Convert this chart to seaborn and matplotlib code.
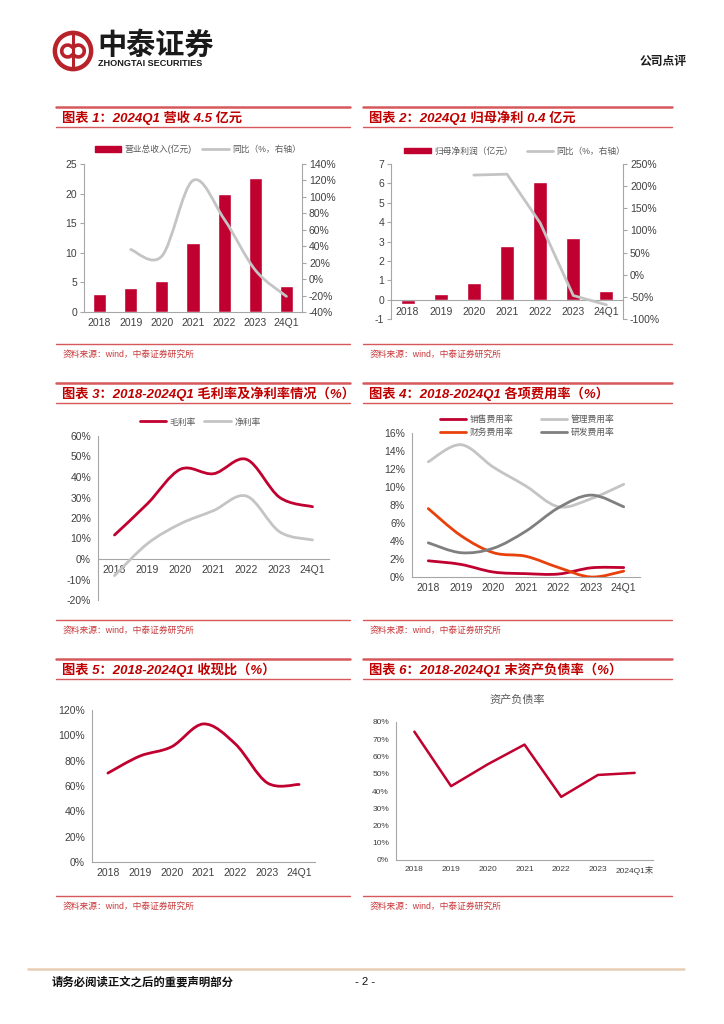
import numpy as np
import pandas as pd
import matplotlib
matplotlib.use("Agg")
import matplotlib.pyplot as plt
import seaborn as sns
from matplotlib.lines import Line2D
from matplotlib.patches import Patch, PathPatch, Circle, Arc
from matplotlib.path import Path

sns.set_style("white")
plt.rcParams['font.family'] = ['Liberation Sans', 'Noto Sans CJK SC']
plt.rcParams['axes.unicode_minus'] = False

# ---- data ----
years = ['2018', '2019', '2020', '2021', '2022', '2023', '24Q1']
years6 = ['2018', '2019', '2020', '2021', '2022', '2023', '2024Q1末']

revenue = [3.0, 4.1, 5.2, 11.7, 19.9, 22.6, 4.4]
revenue_yoy = [36, 28, 120, 73, 11, -21]          # from 2019
profit = [-0.22, 0.27, 0.86, 2.78, 6.05, 3.17, 0.43]
profit_yoy = [225, 227, 117, -47, -68]           # from 2020

gross_margin = [11.7, 27.0, 43.8, 41.6, 48.6, 30.1, 25.5]
net_margin = [-8.1, 7.5, 17.2, 23.6, 30.7, 13.3, 9.3]

sales_rate = [1.8, 1.4, 0.55, 0.37, 0.33, 1.02, 1.05]
admin_rate = [12.8, 14.7, 12.2, 10.1, 7.8, 8.7, 10.3]
finance_rate = [7.6, 4.6, 2.7, 2.3, 1.05, 0.0, 0.65]
rd_rate = [3.8, 2.7, 3.2, 5.1, 7.7, 9.1, 7.8]

cash_ratio = [70.2, 83.6, 91.0, 109.0, 93.2, 62.5, 61.2]
debt_ratio = [74.4, 42.8, 55.5, 66.9, 36.6, 49.3, 50.5]

W, H = 724, 1024
RED = '#C0002F'
TRED = '#C00000'
LRED = '#D7585A'
LGRAY = '#C4C4C4'
DGRAY = '#7F7F7F'
ORANGE = '#E8410B'
TICKC = '#404040'
SPINEC = '#A6A6A6'

fig = plt.figure(figsize=(W / 100, H / 100), dpi=100)


def rect(x0, y0, x1, y1):
    return [x0 / W, 1 - y1 / H, (x1 - x0) / W, (y1 - y0) / H]


def ftext(x, y, s, **kw):
    fig.text(x / W, 1 - y / H, s, va='center', **kw)


def hline(x0, x1, y, color, lw):
    fig.add_artist(Line2D([x0 / W, x1 / W], [1 - y / H, 1 - y / H],
                          transform=fig.transFigure, color=color, lw=lw))


def smooth_line(ax, xs, ys, color, lw=2.0):
    pts = np.column_stack([xs, ys]).astype(float)
    n = len(pts)
    verts = [pts[0]]
    codes = [Path.MOVETO]
    for i in range(n - 1):
        p0, p1 = pts[max(i - 1, 0)], pts[i]
        p2, p3 = pts[i + 1], pts[min(i + 2, n - 1)]
        verts += [p1 + (p2 - p0) / 6, p2 - (p3 - p1) / 6, p2]
        codes += [Path.CURVE4] * 3
    ax.add_patch(PathPatch(Path(verts, codes), fill=False, edgecolor=color,
                           lw=lw, capstyle='round', joinstyle='round', zorder=3))


def style_ax(ax, n=7, fs=7.5, zero_spine=False):
    for s in ['top', 'right']:
        ax.spines[s].set_visible(False)
    for s in ['left', 'bottom']:
        ax.spines[s].set_color(SPINEC)
        ax.spines[s].set_linewidth(0.8)
    if zero_spine:
        ax.spines['bottom'].set_position(('data', 0))
    ax.set_xlim(-0.5, n - 0.5)
    ax.set_xticks(range(n))
    ax.set_xticks(np.arange(-0.5, n), minor=True)
    ax.tick_params(axis='x', which='major', length=0, labelsize=fs, colors=TICKC, pad=4)
    ax.tick_params(axis='x', which='minor', length=3, color=SPINEC, width=0.8)
    ax.tick_params(axis='y', length=3, color=SPINEC, width=0.8, labelsize=fs,
                   labelcolor=TICKC, pad=2)
    ax.set_xlabel('')
    ax.set_ylabel('')
    ax.grid(False)


def pct_labels(ax, ticks):
    ax.set_yticks(ticks)
    ax.set_yticklabels([f'{t:.0f}%' for t in ticks])


def panel_frame(col, row, title):
    x0, x1 = (56, 350) if col == 0 else (363, 672)
    ty = [107, 383, 659][row]
    sy = [344, 620, 896][row]
    hline(x0, x1, ty, LRED, 1.8)
    hline(x0, x1, ty + 20, LRED, 1.0)
    ftext(x0 + 6, ty + 11, title, color=TRED, fontsize=9.5, fontweight='bold',
          style='italic')
    hline(x0, x1, sy, LRED, 1.0)
    ftext(x0 + 7, sy + 10, '资料来源：wind，中泰证券研究所', color='#C8383A', fontsize=6.3)


# ---- page header ----
logo = fig.add_axes(rect(52, 30, 94, 72))
logo.set_xlim(-1.1, 1.1)
logo.set_ylim(-1.1, 1.1)
logo.set_aspect('equal')
logo.axis('off')
logo.add_patch(Circle((0, 0), 0.95, fill=False, ec='#B8232B', lw=3.2))
logo.add_patch(Arc((-0.28, 0), 0.62, 0.62, theta1=30, theta2=330, ec='#B8232B', lw=2.6))
logo.add_patch(Arc((0.28, 0), 0.62, 0.62, theta1=210, theta2=150, ec='#B8232B', lw=2.6))
logo.plot([0, 0], [-0.95, 0.95], color='#B8232B', lw=2.2)
ftext(97, 46, '中泰证券', fontsize=21, fontweight='bold', color='#1A1A1A')
ftext(98, 64, 'ZHONGTAI SECURITIES', fontsize=6.6, fontweight='bold', color='#1A1A1A')
ftext(640, 62, '公司点评', fontsize=8.5, fontweight='bold', color='#1A1A1A')

# ---- footer ----
hline(28, 684, 969, '#E7CDB4', 1.8)
ftext(52, 982, '请务必阅读正文之后的重要声明部分', fontsize=8.2, fontweight='bold', color='#111111')
ftext(355, 982, '- 2 -', fontsize=8.2, color='#111111')

# ---- chart 1 ----
panel_frame(0, 0, '图表 1：2024Q1 营收 4.5 亿元')
ax1 = fig.add_axes(rect(84, 164, 302, 312))
sns.barplot(x=years, y=revenue, color=RED, width=0.42, saturation=1, ax=ax1, zorder=2)
style_ax(ax1)
ax1.set_ylim(0, 25)
ax1.set_yticks(range(0, 26, 5))
ax1b = ax1.twinx()
ax1b.set_ylim(-40, 140)
pct_labels(ax1b, range(-40, 141, 20))
smooth_line(ax1b, np.arange(1, 7), revenue_yoy, LGRAY, 2.0)
for s in ['top', 'left', 'bottom']:
    ax1b.spines[s].set_visible(False)
ax1b.spines['right'].set_color(SPINEC)
ax1b.spines['right'].set_linewidth(0.8)
ax1b.tick_params(axis='y', length=3, color=SPINEC, width=0.8, labelsize=7.5,
                 labelcolor=TICKC, pad=2)
ax1b.grid(False)
ax1.legend([Patch(color=RED), Line2D([], [], color=LGRAY, lw=2)],
           ['营业总收入(亿元)', '同比（%，右轴）'], loc='center',
           bbox_to_anchor=(198 / W, 1 - 149 / H), bbox_transform=fig.transFigure,
           ncol=2, frameon=False, fontsize=6.3, handlelength=3.0, handleheight=0.6,
           columnspacing=1.2, handletextpad=0.4, labelcolor='#595959')

# ---- chart 2 ----
panel_frame(1, 0, '图表 2：2024Q1 归母净利 0.4 亿元')
ax2 = fig.add_axes(rect(391, 164, 623, 319))
sns.barplot(x=years, y=profit, color=RED, width=0.42, saturation=1, ax=ax2, zorder=2)
style_ax(ax2, zero_spine=True)
ax2.set_ylim(-1, 7)
ax2.set_yticks(range(-1, 8))
ax2.tick_params(axis='x', which='major', pad=5)
ax2b = ax2.twinx()
ax2b.set_ylim(-100, 250)
pct_labels(ax2b, range(-100, 251, 50))
sns.lineplot(x=np.arange(2, 7), y=profit_yoy, color=LGRAY, lw=2.0, ax=ax2b)
for s in ['top', 'left', 'bottom']:
    ax2b.spines[s].set_visible(False)
ax2b.spines['right'].set_color(SPINEC)
ax2b.spines['right'].set_linewidth(0.8)
ax2b.tick_params(axis='y', length=3, color=SPINEC, width=0.8, labelsize=7.5,
                 labelcolor=TICKC, pad=2)
ax2b.set_ylabel('')
ax2b.grid(False)
ax2.legend([Patch(color=RED), Line2D([], [], color=LGRAY, lw=2)],
           ['归母净利润（亿元）', '同比（%，右轴）'], loc='center',
           bbox_to_anchor=(515 / W, 1 - 151 / H), bbox_transform=fig.transFigure,
           ncol=2, frameon=False, fontsize=6.3, handlelength=3.0, handleheight=0.6,
           columnspacing=1.6, handletextpad=0.4, labelcolor='#595959')

# ---- chart 3 ----
panel_frame(0, 1, '图表 3：2018-2024Q1 毛利率及净利率情况（%）')
ax3 = fig.add_axes(rect(98, 436, 329, 600))
style_ax(ax3, zero_spine=True)
ax3.set_ylim(-20, 60)
pct_labels(ax3, range(-20, 61, 10))
ax3.set_xticklabels(years)
ax3.tick_params(axis='x', which='major', pad=4)
smooth_line(ax3, np.arange(7), gross_margin, RED, 2.0)
smooth_line(ax3, np.arange(7), net_margin, LGRAY, 2.0)
ax3.legend([Line2D([], [], color=RED, lw=2), Line2D([], [], color=LGRAY, lw=2)],
           ['毛利率', '净利率'], loc='center',
           bbox_to_anchor=(200 / W, 1 - 422 / H), bbox_transform=fig.transFigure,
           ncol=2, frameon=False, fontsize=6.3, handlelength=3.0,
           columnspacing=1.0, handletextpad=0.4, labelcolor='#595959')

# ---- chart 4 ----
panel_frame(1, 1, '图表 4：2018-2024Q1 各项费用率（%）')
ax4 = fig.add_axes(rect(412, 433, 640, 577))
style_ax(ax4)
ax4.set_ylim(0, 16)
pct_labels(ax4, range(0, 17, 2))
ax4.set_xticklabels(years)
fee_series = [(sales_rate, RED, '销售费用率'), (admin_rate, LGRAY, '管理费用率'),
              (finance_rate, ORANGE, '财务费用率'), (rd_rate, DGRAY, '研发费用率')]
for vals, c, _ in fee_series:
    smooth_line(ax4, np.arange(7), vals, c, 2.0)
# legend fills column-wise: put row order sales/admin, finance/rd
leg_order = [0, 2, 1, 3]
ax4.legend([Line2D([], [], color=fee_series[i][1], lw=2) for i in leg_order],
           [fee_series[i][2] for i in leg_order], loc='center',
           bbox_to_anchor=(527 / W, 1 - 426 / H), bbox_transform=fig.transFigure,
           ncol=2, frameon=False, fontsize=6.3, handlelength=3.0,
           columnspacing=3.2, handletextpad=0.4, labelspacing=0.5, labelcolor='#595959')

# ---- chart 5 ----
panel_frame(0, 2, '图表 5：2018-2024Q1 收现比（%）')
ax5 = fig.add_axes(rect(92, 710, 315, 862))
style_ax(ax5)
ax5.set_ylim(0, 120)
pct_labels(ax5, range(0, 121, 20))
ax5.set_xticklabels(years)
smooth_line(ax5, np.arange(7), cash_ratio, RED, 2.0)

# ---- chart 6 ----
panel_frame(1, 2, '图表 6：2018-2024Q1 末资产负债率（%）')
ax6 = fig.add_axes(rect(396, 722, 653, 860))
sns.lineplot(x=np.arange(7), y=debt_ratio, color=RED, lw=1.8, ax=ax6)
style_ax(ax6, fs=6)
ax6.set_ylim(0, 80)
pct_labels(ax6, range(0, 81, 10))
ax6.set_xticklabels(years6)
ftext(517, 700, '资产负债率', fontsize=8, color='#595959', ha='center')

fig.savefig('out.png', dpi=100)
